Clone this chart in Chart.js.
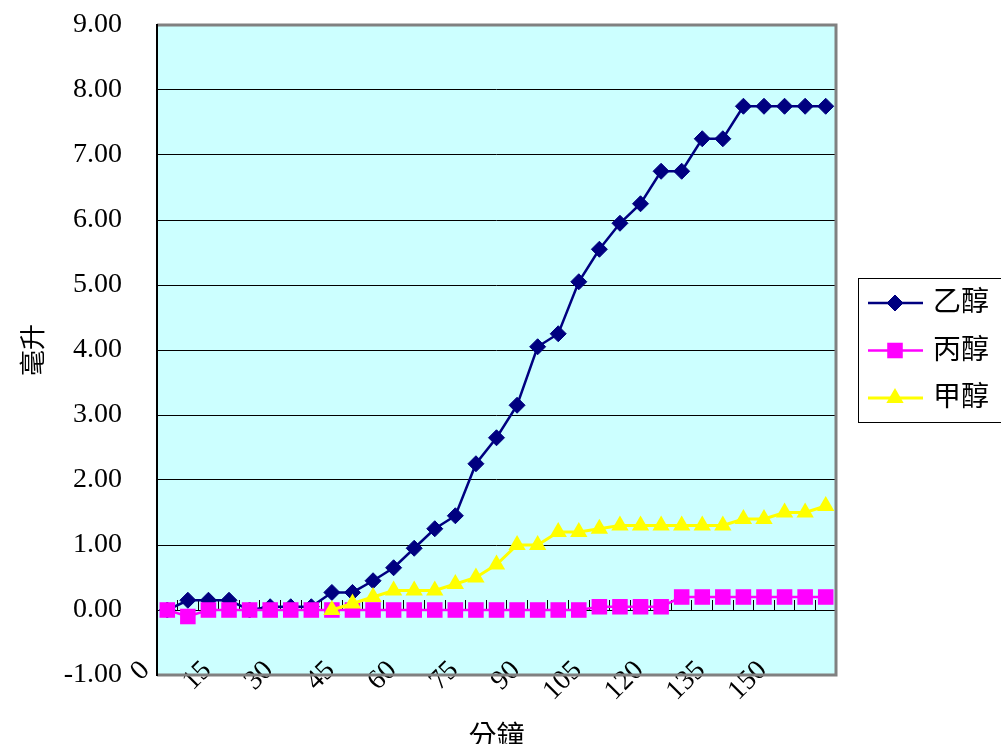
<!DOCTYPE html>
<html>
<head>
<meta charset="utf-8">
<script src="https://cdn.jsdelivr.net/npm/chart.js@4/dist/chart.umd.min.js"></script>
<style>
  html, body { margin: 0; padding: 0; background: #ffffff; }
  canvas { display: block; }
</style>
</head>
<body>
<canvas id="chart" width="1001" height="744"></canvas>
<script>
// Sampling times (minutes)
const minutes = [0, 5, 10, 15, 20, 25, 30, 35, 40, 45, 50, 55, 60, 65, 70, 75, 80,
                 85, 90, 95, 100, 105, 110, 115, 120, 125, 130, 135, 140, 145, 150, 155, 160];

// Labelled minutes on the category axis
const tickMinutes = [0, 15, 30, 45, 60, 75, 90, 105, 120, 135, 150];

// Collected volume (mL)
const ethanol = [0, 0.15, 0.15, 0.15, 0, 0.05, 0.05, 0.05, 0.27, 0.27, 0.45, 0.65, 0.95,
                 1.25, 1.45, 2.25, 2.65, 3.15, 4.05, 4.25, 5.05, 5.55, 5.95, 6.25, 6.75,
                 6.75, 7.25, 7.25, 7.75, 7.75, 7.75, 7.75, 7.75];
const propanol = [0, -0.1, 0, 0, 0, 0, 0, 0, 0, 0, 0, 0, 0, 0, 0, 0, 0, 0, 0, 0, 0,
                  0.05, 0.05, 0.05, 0.05, 0.2, 0.2, 0.2, 0.2, 0.2, 0.2, 0.2, 0.2];
const methanol = [null, null, null, null, null, null, null, null, 0, 0.1, 0.2, 0.3, 0.3,
                  0.3, 0.4, 0.5, 0.7, 1.0, 1.0, 1.2, 1.2, 1.25, 1.3, 1.3, 1.3, 1.3, 1.3,
                  1.3, 1.4, 1.4, 1.5, 1.5, 1.6];

// Y axis range
const yMin = -1, yMax = 9, yStep = 1;

const FONT_FAMILY = "'Liberation Serif', 'Noto Sans CJK TC', serif";
Chart.defaults.font.family = FONT_FAMILY;
Chart.defaults.color = '#000000';

// Cyan plot background and grey frame around the plot area
const plotFrame = {
  id: 'plotFrame',
  beforeDraw(chart) {
    const { ctx, chartArea: a } = chart;
    ctx.save();
    ctx.fillStyle = '#CCFFFF';
    ctx.fillRect(a.left, a.top, a.right - a.left, a.bottom - a.top);
    ctx.restore();
  },
  beforeDatasetsDraw(chart) {
    const { ctx, chartArea: a } = chart;
    ctx.save();
    ctx.strokeStyle = '#808080';
    ctx.lineWidth = 3;
    ctx.beginPath();
    ctx.moveTo(a.left, a.top);
    ctx.lineTo(a.right, a.top);
    ctx.lineTo(a.right, a.bottom);
    ctx.lineTo(a.left, a.bottom);
    ctx.stroke();
    ctx.strokeStyle = '#000000';
    ctx.lineWidth = 2;
    ctx.beginPath();
    ctx.moveTo(a.left, a.top - 1);
    ctx.lineTo(a.left, a.bottom + 1);
    ctx.stroke();
    ctx.restore();
  }
};

// Boxed legend to the right of the plot
const sideLegend = {
  id: 'sideLegend',
  afterDraw(chart) {
    const { ctx, chartArea: a } = chart;
    const bx = a.right + 22, by = a.top + 253, bw = 170, bh = 144;
    ctx.save();
    ctx.strokeStyle = '#000000';
    ctx.lineWidth = 1;
    ctx.strokeRect(bx + 0.5, by + 0.5, bw, bh);
    chart.data.datasets.forEach((ds, i) => {
      const y = by + 25 + i * 47.5;
      ctx.strokeStyle = ds.borderColor;
      ctx.lineWidth = ds.borderWidth;
      ctx.beginPath();
      ctx.moveTo(bx + 10, y);
      ctx.lineTo(bx + 65, y);
      ctx.stroke();
      ctx.fillStyle = ds.pointBackgroundColor;
      ctx.strokeStyle = ds.pointBorderColor;
      ctx.lineWidth = ds.pointBorderWidth;
      Chart.helpers.drawPoint(ctx, {
        pointStyle: ds.pointStyle, radius: ds.pointRadius,
        rotation: 0, borderWidth: ds.pointBorderWidth
      }, bx + 37, y);
      ctx.fillStyle = '#000000';
      ctx.font = '28px ' + FONT_FAMILY;
      ctx.textAlign = 'left';
      ctx.textBaseline = 'middle';
      ctx.fillText(ds.label, bx + 75, y + 1);
    });
    ctx.restore();
  }
};

function noOverflow(scale) {
  scale.paddingTop = 0;
  scale.paddingBottom = 0;
  scale.paddingLeft = 0;
  scale.paddingRight = 0;
}

new Chart(document.getElementById('chart'), {
  type: 'line',
  data: {
    labels: minutes,
    datasets: [
      {
        label: '乙醇', data: ethanol, order: 2,
        borderColor: '#000080', borderWidth: 2.5,
        pointStyle: 'rectRot', pointRadius: 8,
        pointBackgroundColor: '#000080', pointBorderColor: '#000080', pointBorderWidth: 1
      },
      {
        label: '丙醇', data: propanol, order: 1,
        borderColor: '#FF00FF', borderWidth: 2.5,
        pointStyle: 'rect', pointRadius: 11,
        pointBackgroundColor: '#FF00FF', pointBorderColor: '#FF00FF', pointBorderWidth: 0
      },
      {
        label: '甲醇', data: methanol, order: 0,
        borderColor: '#FFFF00', borderWidth: 3,
        pointStyle: 'triangle', pointRadius: 10,
        pointBackgroundColor: '#FFFF00', pointBorderColor: '#FFFF00', pointBorderWidth: 0
      }
    ]
  },
  options: {
    responsive: false,
    animation: false,
    devicePixelRatio: 1,
    layout: { padding: { top: 25, right: 165, bottom: 0, left: 0 } },
    elements: { line: { tension: 0 } },
    plugins: {
      legend: { display: false },
      tooltip: { enabled: false }
    },
    scales: {
      x: {
        type: 'category',
        offset: true,
        grid: { display: false },
        border: { display: false },
        ticks: {
          autoSkip: false,
          minRotation: 45,
          maxRotation: 45,
          mirror: true,
          padding: -3,
          labelOffset: 2,
          font: { size: 28 },
          callback(value, index) {
            return tickMinutes.includes(minutes[index]) ? String(minutes[index]) : '';
          }
        },
        title: {
          display: true,
          text: '分鐘',
          font: { size: 28 },
          padding: { top: 0, bottom: -11 }
        },
        afterFit(scale) { scale.height = 69; noOverflow(scale); }
      },
      x2: {
        type: 'category',
        position: { y: 0 },
        offset: true,
        grid: {
          offset: true,
          drawOnChartArea: false,
          drawTicks: true,
          tickLength: -10,
          color: '#000000',
          lineWidth: 1
        },
        border: { display: false },
        ticks: { display: false, autoSkip: false },
        afterFit(scale) { scale.height = 0; noOverflow(scale); }
      },
      y: {
        min: yMin,
        max: yMax,
        ticks: {
          stepSize: yStep,
          padding: 35,
          font: { size: 28 },
          callback(value) { return Number(value).toFixed(2); }
        },
        grid: {
          drawTicks: false,
          color(ctx) {
            const v = ctx.tick ? ctx.tick.value : null;
            return (v === yMin || v === yMax) ? 'rgba(0,0,0,0)' : '#000000';
          },
          lineWidth: 1
        },
        border: { display: false },
        title: {
          display: true,
          text: '毫升',
          font: { size: 26 },
          padding: { top: 20, bottom: 0 }
        },
        afterFit(scale) { scale.width = 157; noOverflow(scale); }
      }
    }
  },
  plugins: [plotFrame, sideLegend]
});
</script>
</body>
</html>
